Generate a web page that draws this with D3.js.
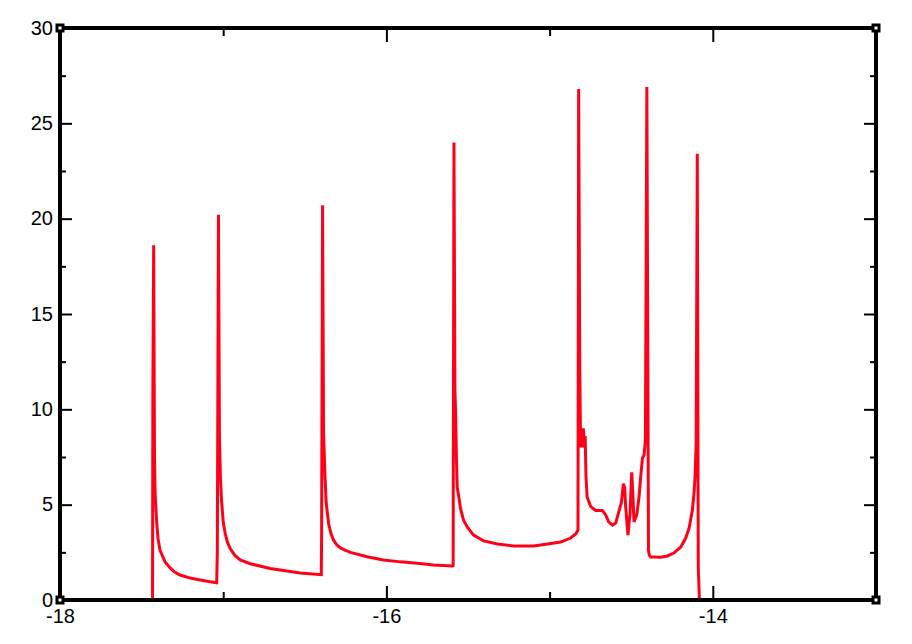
<!DOCTYPE html>
<html>
<head>
<meta charset="utf-8">
<script src="https://cdn.jsdelivr.net/npm/d3@7"></script>
<style>
  body { margin: 0; background: #fff; }
  .tick text { font-family: "Liberation Sans", Arial, sans-serif; font-size: 20px; fill: #000; }
</style>
</head>
<body>
<div class="canvas"></div>
<script>
// spectrum values
const xs = [-18, -17.433, -17.431, -17.426, -17.421, -17.417, -17.411, -17.407, -17.399, -17.387,
  -17.356, -17.325, -17.300, -17.264, -17.202, -17.141, -17.080, -17.040, -17.036, -17.029, -17.023,
  -17.017, -17.010, -17.000, -16.988, -16.975, -16.957, -16.930, -16.896, -16.834, -16.712, -16.589, -16.528, -16.399,
  -16.397, -16.391, -16.385, -16.377, -16.369, -16.354, -16.340, -16.325, -16.305, -16.282, -16.250, -16.221, -16.118,
  -16.018, -15.914, -15.810, -15.712, -15.595, -15.591, -15.586, -15.580, -15.576, -15.571,
  -15.566, -15.556, -15.546, -15.528, -15.503, -15.466, -15.405, -15.319, -15.221, -15.098,
  -15.012, -14.933, -14.871, -14.840, -14.826, -14.822, -14.815, -14.810, -14.804, -14.798,
  -14.793, -14.788, -14.782, -14.777, -14.770, -14.748, -14.718, -14.677, -14.656, -14.638,
  -14.615, -14.595, -14.577, -14.560, -14.548, -14.540, -14.534, -14.520, -14.507, -14.497,
  -14.489, -14.483, -14.466, -14.452, -14.442, -14.431, -14.421, -14.413, -14.404, -14.398,
  -14.394, -14.389, -14.380, -14.362, -14.319, -14.278, -14.239, -14.196, -14.166, -14.145,
  -14.125, -14.115, -14.109, -14.102, -14.095, -14.089, -14.082, -13];
const ys = [0, 0, 10.7, 18.6, 7.5, 5.6, 4.6, 4.0, 3.2, 2.6,
  2.0, 1.68, 1.48, 1.31, 1.15, 1.05, 0.96, 0.91, 2.5, 20.2, 8.5,
  6.4, 5.2, 4.1, 3.5, 3.05, 2.7, 2.35, 2.1, 1.9, 1.65, 1.5, 1.42, 1.33,
  3.4, 20.7, 8.75, 6.65, 5.1, 4.0, 3.5, 3.15, 2.9, 2.73, 2.6, 2.5, 2.27,
  2.1, 2.0, 1.93, 1.84, 1.78, 1.8, 24.0, 11.0, 9.9, 7.5,
  5.9, 5.4, 4.8, 4.2, 3.8, 3.4, 3.1, 2.94, 2.83, 2.83,
  2.94, 3.04, 3.25, 3.46, 3.67, 26.8, 12.0, 8.0, 9.0, 8.0,
  9.0, 8.1, 8.6, 6.45, 5.4, 4.9, 4.7, 4.7, 4.46, 4.1,
  3.93, 4.04, 4.6, 5.1, 6.1, 5.9, 4.9, 3.4, 4.56, 6.7,
  5.4, 4.1, 4.46, 5.4, 6.45, 7.45, 7.6, 8.4, 26.9, 12.0,
  2.6, 2.35, 2.25, 2.25, 2.24, 2.31, 2.46, 2.78, 3.25, 3.78,
  4.72, 5.6, 6.45, 8.2, 23.4, 1.7, 0, 0];

const xMajor = [-18, -16, -14];
const xMinor = [-17, -15, -13];
const yMajor = [0, 5, 10, 15, 20, 25, 30];
const yMinor = [2.5, 7.5, 12.5, 17.5, 22.5, 27.5];

const width = 912, height = 644;
const mLeft = 60, mRight = 876, mTop = 28, mBottom = 600;

const svg = d3.select('.canvas')
              .append('svg')
              .attr('width', width)
              .attr('height', height)

const x = d3.scaleLinear().domain([-18, -13]).range([mLeft, mRight])
const y = d3.scaleLinear().domain([0, 30]).range([mBottom, mTop])

const pts = xs.map((v, i) => [v, ys[i]])
const fmt = d => String(d)   // plain hyphen minus like the original

// axes: ticks point inwards on all four sides
function drawAxis(axis, tx, ty, size, labels) {
  const g = svg.append('g').attr('transform', `translate(${tx},${ty})`)
    .call(axis.tickSize(size).tickSizeOuter(0))
  g.select('.domain').remove()
  g.selectAll('.tick line').attr('stroke', '#000').attr('stroke-width', 2)
  if (!labels) g.selectAll('.tick text').remove()
  return g
}

const xb = drawAxis(d3.axisBottom(x).tickValues(xMajor).tickFormat(fmt), 0, mBottom, -14, true)
xb.selectAll('.tick text').attr('y', 9).attr('dy', '0.71em')
drawAxis(d3.axisBottom(x).tickValues(xMinor), 0, mBottom, -8, false)
drawAxis(d3.axisTop(x).tickValues(xMajor), 0, mTop, -14, false)
drawAxis(d3.axisTop(x).tickValues(xMinor), 0, mTop, -8, false)

const yl = drawAxis(d3.axisLeft(y).tickValues(yMajor).tickFormat(fmt), mLeft, 0, -12, true)
yl.selectAll('.tick text').attr('x', -7).attr('dy', '0.3em')
drawAxis(d3.axisLeft(y).tickValues(yMinor), mLeft, 0, -6, false)
drawAxis(d3.axisRight(y).tickValues(yMajor), mRight, 0, -12, false)
drawAxis(d3.axisRight(y).tickValues(yMinor), mRight, 0, -6, false)

const line = d3.line().x(d => x(d[0])).y(d => y(d[1]))

svg.append('path')
   .datum(pts)
   .attr('d', line)
   .attr('fill', 'none')
   .attr('stroke', '#ff0018')
   .attr('stroke-width', 3)
   .attr('stroke-linejoin', 'miter')

// frame
svg.append('rect')
   .attr('x', mLeft).attr('y', mTop)
   .attr('width', mRight - mLeft).attr('height', mBottom - mTop)
   .attr('fill', 'none')
   .attr('stroke', '#000')
   .attr('stroke-width', 4)

// little corner markers
const corners = [[-18, 0], [-18, 30], [-13, 0], [-13, 30]]
svg.selectAll('.corner').data(corners).enter()
   .append('rect')
   .attr('class', 'corner')
   .attr('x', d => x(d[0]) - 3).attr('y', d => y(d[1]) - 3)
   .attr('width', 6).attr('height', 6)
   .attr('fill', '#fff')
   .attr('stroke', '#000')
   .attr('stroke-width', 3)
</script>
</body>
</html>
